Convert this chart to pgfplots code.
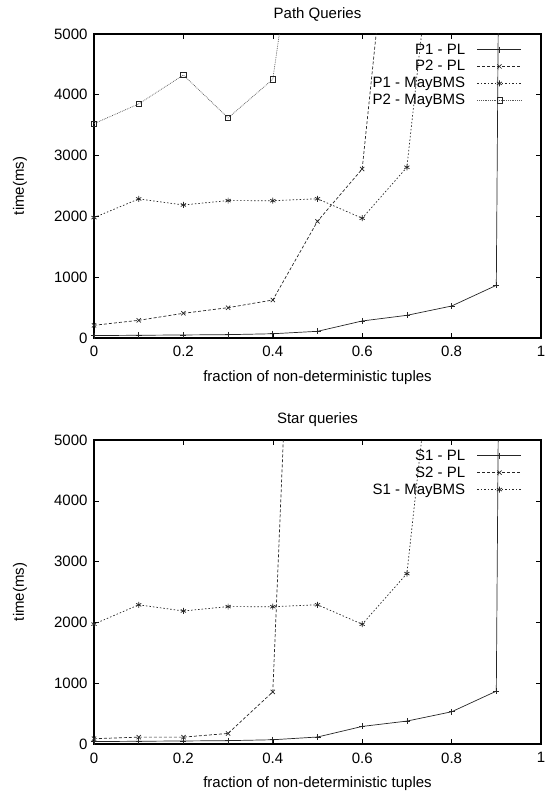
\documentclass[border=0pt]{standalone}
\usepackage{pgfplots}
\pgfplotsset{compat=1.18}
\usepackage{fontspec}
\setmainfont{Liberation Sans}
\pgfplotsset{
  gp/.style={
    scale only axis,
    width=447bp, height=304bp,
    xmin=0, xmax=1, ymin=0, ymax=5000,
    xtick={0,0.2,0.4,0.6,0.8,1},
    xticklabels={0,0.2,0.4,0.6,0.8,1},
    ytick={0,1000,2000,3000,4000,5000},
    yticklabels={0,1000,2000,3000,4000,5000},
    xticklabel style={yshift=-5bp},
    yticklabel style={xshift=-3bp},
    tick align=inside,
    major tick length=5bp,
    axis line style={line width=1.1bp},
    every tick/.style={black, line width=0.6bp},
    font=\fontsize{15bp}{18bp}\selectfont,
    xlabel={fraction of non-deterministic tuples},
    ylabel={time(ms)},
    xlabel style={at={(axis description cs:0.5,-0.1316)}, anchor=center},
    ylabel style={at={(axis description cs:-0.1655,0.5)}, anchor=center},
    title style={at={(axis description cs:0.5,1.046)}, anchor=center, yshift=0pt},
    legend style={draw=none, fill=none, at={(1,1)}, anchor=north east,
      xshift=-16bp, yshift=-5.5bp, row sep=1bp,
      /tikz/every odd column/.append style={column sep=10bp},
      font=\fontsize{15bp}{18bp}\selectfont},
    legend cell align=right,
    legend plot pos=right,
    legend image code/.code={
      \draw[mark repeat=2,mark phase=2,#1] plot coordinates {(0bp,0bp) (22bp,0bp) (44bp,0bp)};
    },
    clip=true,
  },
  s1/.style={black!85, line width=0.7bp, solid, mark=+, mark size=3bp, mark options={solid}},
  s2/.style={black!85, line width=0.7bp, dash pattern=on 3bp off 2bp, mark=x, mark size=3bp, mark options={solid}},
  s3/.style={black!85, line width=0.7bp, dash pattern=on 1.5bp off 2bp, mark=asterisk, mark size=3bp, mark options={solid}},
  s4/.style={black!65, line width=0.7bp, dash pattern=on 0.8bp off 1bp, mark=square, mark size=2.6bp, mark options={solid, black!85}},
}
\begin{document}
\begin{tikzpicture}
\path[use as bounding box] (-94bp,-462bp) rectangle (465bp,338bp);
\begin{axis}[gp, title={Path Queries}, at={(0,0)}, anchor=south west]
\addplot[s1] coordinates {(0,40) (0.1,45) (0.2,50) (0.3,55) (0.4,70) (0.5,110) (0.6,280) (0.7,373) (0.8,526) (0.9,866) (1.0,100000)};
\addlegendentry{P1 - PL}
\addplot[s2] coordinates {(0,209) (0.1,291) (0.2,406) (0.3,499) (0.4,625) (0.5,1920) (0.6,2780) (0.7,9900)};
\addlegendentry{P2 - PL}
\addplot[s3] coordinates {(0,1980) (0.1,2287) (0.2,2188) (0.3,2260) (0.4,2258) (0.5,2290) (0.6,1970) (0.7,2808) (0.8,9500)};
\addlegendentry{P1 - MayBMS}
\addplot[s4] coordinates {(0,3525) (0.1,3850) (0.2,4326) (0.3,3620) (0.4,4255) (0.5,9400)};
\addlegendentry{P2 - MayBMS}
\end{axis}
\begin{axis}[gp, title={Star queries}, at={(0,-406bp)}, anchor=south west]
\addplot[s1] coordinates {(0,40) (0.1,45) (0.2,50) (0.3,55) (0.4,70) (0.5,115) (0.6,289) (0.7,377) (0.8,530) (0.9,869) (1.0,100000)};
\addlegendentry{S1 - PL}
\addplot[s2] coordinates {(0,87) (0.1,113) (0.2,113) (0.3,174) (0.4,857) (0.5,18500)};
\addlegendentry{S2 - PL}
\addplot[s3] coordinates {(0,1972) (0.1,2289) (0.2,2188) (0.3,2260) (0.4,2258) (0.5,2290) (0.6,1970) (0.7,2803) (0.8,9500)};
\addlegendentry{S1 - MayBMS}
\end{axis}
\end{tikzpicture}
\end{document}
